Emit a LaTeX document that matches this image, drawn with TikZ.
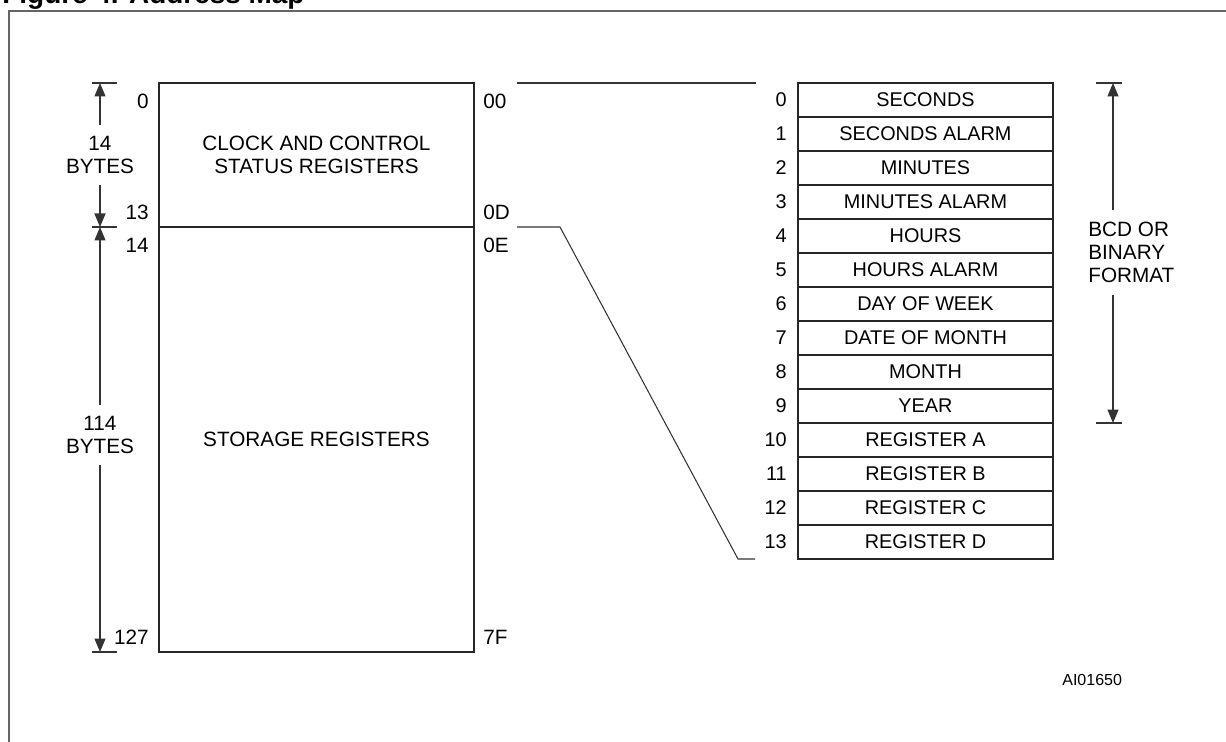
\documentclass[tikz,border=0pt]{standalone}
\usepackage{fontspec}
\setmainfont{Liberation Sans}
\usetikzlibrary{arrows.meta, positioning}

\begin{document}
\begin{tikzpicture}[
    x=0.02cm, y=-0.02cm,
    font=\fontsize{11.8}{13.2}\selectfont,
    block/.style={
        rectangle,
        draw=black!85,
        line width=1.1pt,
        minimum width=6.3cm,
        align=center,
        inner sep=0pt
    },
    row/.style={
        rectangle,
        draw=black!85,
        line width=1.1pt,
        minimum width=5.1cm,
        minimum height=0.68cm,
        inner sep=0pt,
        font=\fontsize{11.3}{13}\selectfont
    },
    addr/.style={
        inner sep=0pt
    },
    span/.style={
        inner sep=0pt,
        align=center
    },
    tick/.style={
        line width=0.7pt,
        black!80
    },
    dim/.style={
        -{Triangle[length=0.27cm, width=0.22cm]},
        line width=0.7pt,
        black!80
    },
    link/.style={
        line width=0.6pt,
        black!80
    }
]
    \useasboundingbox (0,0) rectangle (1226,742);

    \node[anchor=base west, inner sep=0pt, font=\fontsize{15.9}{18}\selectfont\bfseries] (title) at (2,4) {Figure 4. Address Map};
    \draw[line width=1.2pt, black!60] (9,742) -- (9,11) -- (1226,11);

    \node[block, minimum height=2.88cm] (clk) at (316.5,155) {CLOCK AND CONTROL\\STATUS REGISTERS};
    \node[block, minimum height=8.5cm] (stor) at (316.5,439.5) {STORAGE REGISTERS};

    \foreach \n/\y in {0/101, 13/212, 14/245, 127/637}
        \node[addr, anchor=east] (a\n) at (149,\y) {\n};
    \foreach \h/\y in {00/101, 0D/212, 0E/245, 7F/637}
        \node[addr, anchor=west] (h\h) at (483,\y) {\h};

    \coordinate (lt0) at (100,83);
    \coordinate (lt1) at (100,227);
    \coordinate (lt2) at (100,652);
    \node[span, minimum height=1.2cm] (b14) at (100,155) {14\\BYTES};
    \node[span, minimum height=1.2cm] (b114) at (100,435) {114\\BYTES};
    \foreach \c in {lt0, lt1, lt2}
        \draw[tick] ([xshift=-0.17cm]\c) -- ([xshift=0.34cm]\c);
    \draw[dim] (b14.north) -- (lt0);
    \draw[dim] (b14.south) -- (lt1);
    \draw[dim] (b114.north) -- (lt1);
    \draw[dim] (b114.south) -- (lt2);

    \foreach \lab [count=\i from 0] in {SECONDS, SECONDS ALARM, MINUTES, MINUTES ALARM, HOURS, HOURS ALARM, DAY OF WEEK, DATE OF MONTH, MONTH, YEAR, REGISTER A, REGISTER B, REGISTER C, REGISTER D} {
        \node[row] (r\i) at (925.5,99.7+34*\i) {\lab};
        \node[addr, left=0.2cm of r\i, font=\fontsize{11.3}{13}\selectfont] (n\i) {\i};
    }

    \coordinate (rt0) at (1113,83);
    \coordinate (rt1) at (1113,423);
    \node[span, align=left, anchor=west, minimum height=1.7cm] (fmt) at (1088,252.5) {BCD OR\\BINARY\\FORMAT};
    \foreach \c in {rt0, rt1}
        \draw[tick] ([xshift=-0.34cm]\c) -- ([xshift=0.18cm]\c);
    \draw[dim] (fmt.north -| rt0) -- (rt0);
    \draw[dim] (fmt.south -| rt1) -- (rt1);

    \coordinate (c0) at (517,83);
    \coordinate (c1) at (756,83);
    \coordinate (c2) at (517,227);
    \coordinate (c3) at (560,227);
    \coordinate (c4) at (738,559);
    \coordinate (c5) at (755,559);
    \draw[link] (c0) -- (c1);
    \draw[link] (c2) -- (c3) -- (c4) -- (c5);

    \node[addr, anchor=west, font=\fontsize{9.1}{11}\selectfont] (code) at (1062,680) {AI01650};
\end{tikzpicture}
\end{document}
